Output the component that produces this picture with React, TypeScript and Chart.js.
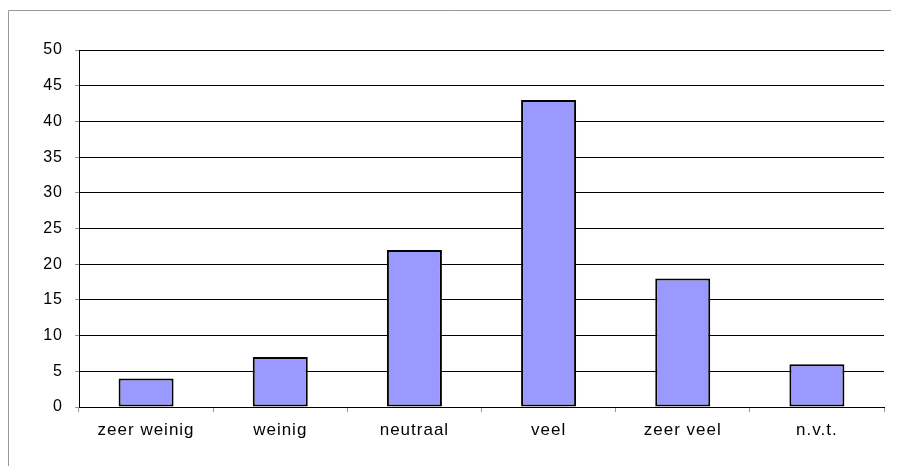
import React, { useEffect, useRef } from "react";
import { Chart, registerables } from "chart.js";

Chart.register(...registerables);

const categories = ["zeer weinig", "weinig", "neutraal", "veel", "zeer veel", "n.v.t."];
const values = [4, 7, 22, 43, 18, 6];
const yMin = 0;
const yMax = 50;
const yStep = 5;

const borderPlugin = {
  id: "outerBorder",
  beforeDraw(chart: any) {
    const ctx = chart.ctx;
    try {
      ctx.letterSpacing = "1px";
    } catch (e) {}
    ctx.save();
    ctx.strokeStyle = "#999999";
    ctx.lineWidth = 1;
    ctx.beginPath();
    ctx.moveTo(0.5, chart.height);
    ctx.lineTo(0.5, 2.5);
    ctx.lineTo(chart.width, 2.5);
    ctx.stroke();
    ctx.restore();
  },
};

export default function App() {
  const ref = useRef<HTMLCanvasElement | null>(null);
  useEffect(() => {
    if (!ref.current) return;
    const chart = new Chart(ref.current, {
      type: "bar",
      data: {
        labels: categories,
        datasets: [
          {
            data: values,
            backgroundColor: "#9999FF",
            borderColor: "#000000",
            borderWidth: 2,
            borderSkipped: false,
            barPercentage: 0.41,
            categoryPercentage: 1,
          },
        ],
      },
      options: {
        responsive: false,
        animation: false,
        events: [],
        layout: { padding: { left: 0, top: 42, right: 15, bottom: 0 } },
        plugins: { legend: { display: false }, tooltip: { enabled: false } },
        scales: {
          x: {
            grid: {
              offset: true,
              drawOnChartArea: false,
              drawTicks: true,
              tickLength: 5,
              tickColor: "#999999",
            },
            border: { color: "#000000", width: 1 },
            ticks: {
              color: "#000000",
              font: { family: "'Liberation Sans', Arial", size: 17 },
              padding: 8,
              maxRotation: 0,
            },
            afterFit(scale: any) {
              scale.height = 59;
            },
          },
          y: {
            min: yMin,
            max: yMax,
            grid: {
              color: "#000000",
              lineWidth: 1,
              drawTicks: true,
              tickLength: 4,
              tickColor: "#999999",
            },
            border: { color: "#000000", width: 1 },
            ticks: {
              stepSize: yStep,
              color: "#000000",
              font: { family: "'Liberation Sans', Arial", size: 16 },
              padding: 12,
            },
            afterFit(scale: any) {
              scale.width = 71;
            },
          },
        },
      },
      plugins: [borderPlugin],
    });
    return () => chart.destroy();
  }, []);
  return (
    <div style={{ width: 891, height: 458 }}>
      <canvas ref={ref} width={891} height={458} style={{ display: "block" }} />
    </div>
  );
}
